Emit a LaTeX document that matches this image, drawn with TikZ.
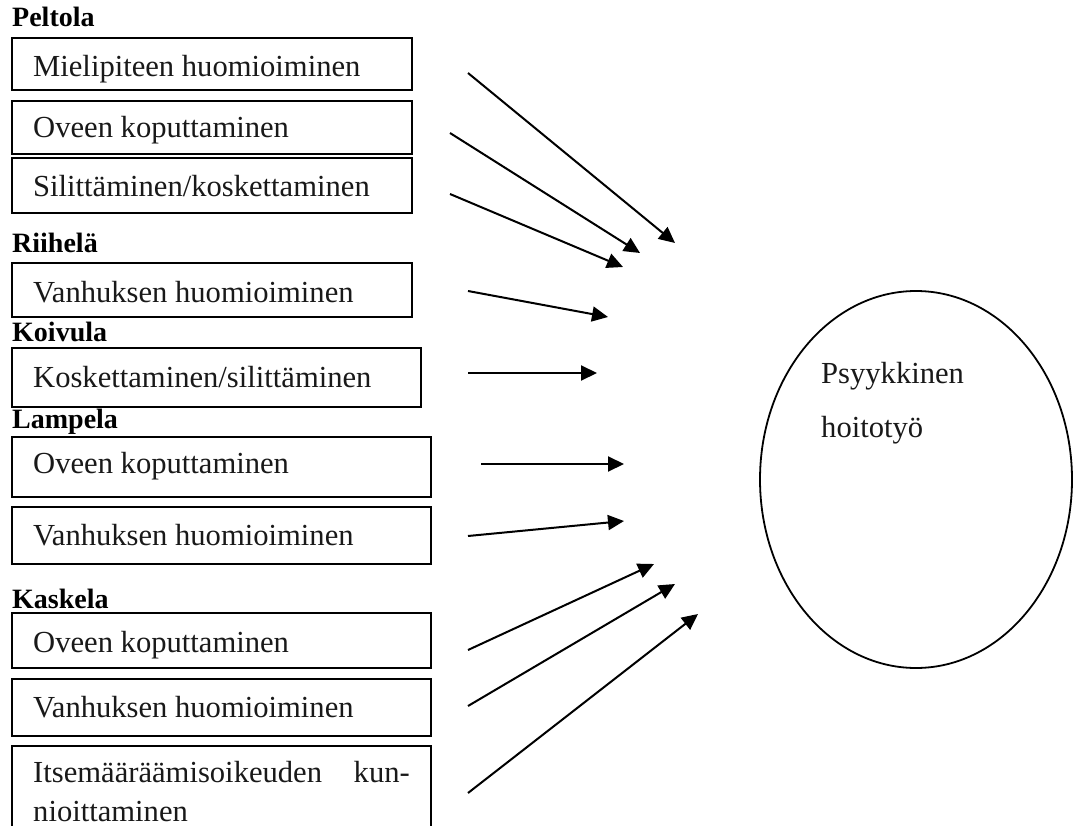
\documentclass[tikz,border=0pt]{standalone}
\usepackage{fontspec}
\setmainfont{Liberation Serif}
\usetikzlibrary{arrows.meta,shapes.geometric}
\tikzset{
  itembox/.style={draw=black, line width=1.8pt},
  itemtext/.style={anchor=base west, inner sep=0pt, font=\fontsize{30.6}{36}\selectfont, text=black!90},
  grouplabel/.style={anchor=base west, inner sep=0pt, font=\fontsize{28}{32}\selectfont\bfseries},
  arr/.style={line width=2pt, -{Triangle[length=16pt,width=15pt]}},
}
\begin{document}
\begin{tikzpicture}[x=1pt,y=-1pt]
\useasboundingbox (0,0) rectangle (1073,826);
\clip (0,0) rectangle (1073,826);
\fill[white] (0,0) rectangle (1073,826);

% group labels
\node[grouplabel] (lpel) at (12,27) {Peltola};
\node[grouplabel] (lrii) at (12,253) {Riihelä};
\node[grouplabel] (lkoi) at (12,341) {Koivula};
\node[grouplabel] (llam) at (12,428) {Lampela};
\node[grouplabel] (lkas) at (12,608) {Kaskela};

% item boxes
\draw[itembox] (12,38) rectangle (412,90);
\draw[itembox] (12,101) rectangle (412,154);
\draw[itembox] (12,158) rectangle (412,213);
\draw[itembox] (12,263) rectangle (412,317);
\draw[itembox] (12,348) rectangle (421,407);
\draw[itembox] (12,437) rectangle (431,497);
\draw[itembox] (12,507) rectangle (431,564);
\draw[itembox] (12,613) rectangle (431,668);
\draw[itembox] (12,679) rectangle (431,736);
\draw[itembox] (12,840) -- (12,746) -- (431,746) -- (431,840);

% item texts
\node[itemtext] (t1) at (33,77) {Mielipiteen huomioiminen};
\node[itemtext] (t2) at (33,138) {Oveen koputtaminen};
\node[itemtext] (t3) at (33,197) {Silittäminen/koskettaminen};
\node[itemtext] (t4) at (33,302) {Vanhuksen huomioiminen};
\node[itemtext] (t5) at (33,387) {Koskettaminen/silittäminen};
\node[itemtext] (t6) at (33,473) {Oveen koputtaminen};
\node[itemtext] (t7) at (33,545) {Vanhuksen huomioiminen};
\node[itemtext] (t8) at (33,652) {Oveen koputtaminen};
\node[itemtext] (t9) at (33,717) {Vanhuksen huomioiminen};
\node[itemtext] (t10a) at (33,782) {Itsemääräämisoikeuden};
\node[itemtext, anchor=base east] (t10b) at (410,782) {kun-};
\node[itemtext] (t10c) at (33,821) {nioittaminen};

% target
\node[draw, line width=1.8pt, ellipse, minimum width=312pt, minimum height=377pt, inner sep=0pt] (psy) at (916,479.5) {};
\node[itemtext] (psy1) at (821,383) {Psyykkinen};
\node[itemtext] (psy2) at (821,437) {hoitotyö};

% arrow ends
\coordinate (s1) at (468,73);   \coordinate (e1) at (675,243);
\coordinate (s2) at (450,133);  \coordinate (e2) at (640,253);
\coordinate (s3) at (450,194);  \coordinate (e3) at (623,267);
\coordinate (s4) at (468,291);  \coordinate (e4) at (608,317);
\coordinate (s5) at (468,373);  \coordinate (e5) at (597,373);
\coordinate (s6) at (481,464);  \coordinate (e6) at (624,464);
\coordinate (s7) at (468,536);  \coordinate (e7) at (624,521);
\coordinate (s8) at (468,650);  \coordinate (e8) at (654,564);
\coordinate (s9) at (468,706);  \coordinate (e9) at (675,584);
\coordinate (s10) at (468,793); \coordinate (e10) at (698,614);

\foreach \i in {1,...,10} \draw[arr] (s\i) -- (e\i);
\end{tikzpicture}
\end{document}
